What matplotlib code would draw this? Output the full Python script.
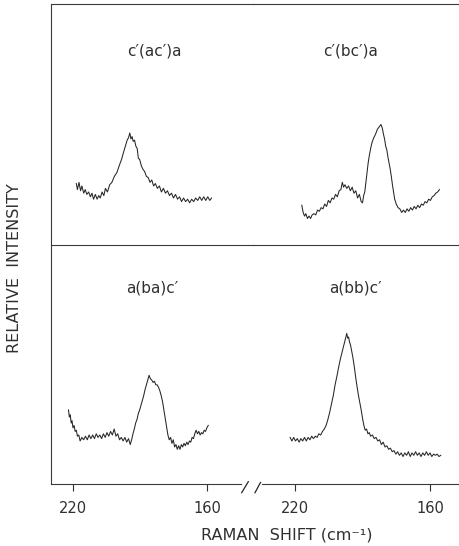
import matplotlib
matplotlib.use("Agg")
import matplotlib.pyplot as plt
from matplotlib.lines import Line2D
import numpy as np

# ---------------- data ----------------
tl_w = [218.5, 218.0, 217.3, 216.6, 216.0, 215.2, 214.5, 213.8, 213.0, 212.2, 211.5, 210.8, 210.0, 209.2,
        208.5, 207.8, 207.0, 206.2, 205.5, 204.6, 203.6, 202.6, 201.5, 200.4, 199.3, 198.3, 197.4, 196.6,
        195.8, 195.2, 194.6, 194.1, 193.6, 193.1, 192.5, 191.9, 191.3, 190.8, 190.2, 189.5, 188.8, 188.0,
        187.2, 186.4, 185.6, 184.8, 184.0, 183.2, 182.3, 181.4, 180.5, 179.6, 178.7, 177.8, 176.9, 176.0,
        175.1, 174.2, 173.3, 172.4, 171.5, 170.6, 169.7, 168.8, 167.9, 167.0, 166.1, 165.2, 164.3, 163.4,
        162.5, 161.6, 160.7, 159.8, 158.9, 158.1]
tl_i = [25.5, 23.0, 26.0, 22.5, 24.5, 21.5, 23.0, 21.0, 22.0, 20.0, 21.5, 19.0, 21.0, 19.0,
        20.5, 19.5, 22.0, 20.5, 23.5, 22.0, 25.0, 26.0, 28.5, 30.0, 33.0, 35.5, 38.5, 41.0,
        43.5, 44.5, 46.5, 44.0, 45.0, 43.0, 43.5, 41.0, 40.0, 36.0, 35.5, 33.0, 31.5, 30.5,
        28.5, 28.0, 26.0, 27.0, 24.5, 25.5, 23.5, 24.5, 22.0, 23.5, 21.5, 22.5, 20.5, 21.5,
        19.5, 21.0, 19.0, 20.0, 18.0, 19.5, 18.0, 19.0, 17.5, 19.0, 18.0, 19.5, 18.5, 20.0,
        18.5, 20.0, 18.5, 20.0, 18.5, 19.5]

tr_w = [217.0, 216.4, 215.8, 215.2, 214.5, 213.8, 213.1, 212.4, 211.6, 210.8, 210.0, 209.2, 208.4, 207.6,
        206.8, 206.0, 205.2, 204.4, 203.6, 202.8, 202.0, 201.2, 200.4, 199.6, 199.0, 198.4, 197.8, 197.0,
        196.2, 195.4, 194.6, 193.8, 193.0, 192.2, 191.4, 190.6, 190.0, 189.5, 189.0, 188.5, 188.0, 187.5,
        187.0, 186.4, 185.8, 185.0, 184.2, 183.4, 182.6, 181.8, 181.2, 180.7, 180.2, 179.7, 179.2, 178.7,
        178.2, 177.7, 177.2, 176.7, 176.2, 175.7, 175.0, 174.2, 173.4, 172.6, 171.8, 171.0, 170.2, 169.4,
        168.6, 167.8, 167.0, 166.2, 165.4, 164.6, 163.8, 163.0, 162.2, 161.4, 160.6, 159.8, 159.0, 158.2,
        157.4, 156.6, 155.8]
tr_i = [16.5, 13.5, 12.0, 13.0, 11.0, 12.0, 11.0, 12.5, 13.0, 12.5, 14.5, 14.0, 15.5, 15.0,
        17.0, 16.0, 18.5, 17.5, 19.5, 19.0, 21.0, 20.0, 22.5, 23.0, 26.0, 24.0, 25.0, 23.5,
        24.5, 22.5, 24.0, 21.5, 22.5, 19.5, 21.0, 18.0, 17.5, 20.5, 22.0, 26.0, 30.0, 34.0,
        37.0, 40.0, 42.5, 44.5, 46.0, 48.0, 49.0, 50.0, 48.5, 46.0, 44.0, 41.0, 39.5, 36.5,
        34.0, 31.5, 28.5, 25.0, 22.0, 19.0, 17.0, 15.5, 15.0, 13.5, 14.5, 13.5, 15.0, 14.0,
        15.5, 14.5, 16.0, 15.0, 16.5, 15.5, 17.0, 16.5, 18.0, 17.5, 19.0, 18.5, 20.0, 20.5,
        21.5, 22.0, 23.0]

bl_w = [222.0, 221.6, 221.2, 220.8, 220.4, 220.0, 219.5, 219.0, 218.5, 218.0, 217.4, 216.8, 216.0, 215.2,
        214.4, 213.6, 212.8, 212.0, 211.2, 210.4, 209.6, 208.8, 208.0, 207.2, 206.4, 205.6, 204.8, 204.0,
        203.2, 202.4, 201.6, 200.8, 200.0, 199.2, 198.4, 197.6, 196.8, 196.0, 195.2, 194.4, 193.8, 193.2,
        192.6, 192.0, 191.4, 190.8, 190.2, 189.6, 189.0, 188.4, 187.8, 187.2, 186.6, 186.0, 185.4, 184.8,
        184.2, 183.6, 183.0, 182.4, 181.8, 181.2, 180.6, 180.0, 179.4, 178.8, 178.2, 177.6, 177.0, 176.4,
        175.8, 175.2, 174.6, 174.0, 173.4, 172.8, 172.2, 171.6, 171.0, 170.4, 169.8, 169.2, 168.6, 168.0,
        167.4, 166.8, 166.2, 165.6, 165.0, 164.4, 163.8, 163.2, 162.6, 162.0, 161.4, 160.8, 160.2, 159.6]
bl_i = [31.0, 28.0, 29.0, 25.5, 26.5, 23.5, 24.5, 22.0, 22.5, 20.0, 20.5, 18.0, 19.5, 18.5,
        20.0, 18.5, 20.5, 19.0, 20.5, 19.0, 21.0, 19.5, 20.5, 19.0, 21.0, 19.5, 21.5, 20.0,
        22.0, 20.5, 23.0, 20.0, 21.0, 18.5, 19.5, 18.0, 19.5, 17.5, 19.0, 16.5, 18.5, 21.0,
        23.0, 25.5, 27.0, 29.5, 31.0, 33.0, 35.0, 37.0, 39.5, 41.5, 43.5, 45.5, 44.0, 43.5,
        42.5, 43.0, 41.5, 41.5, 40.5, 39.0, 37.0, 34.5, 31.0, 27.5, 24.0, 20.5, 18.5, 19.5,
        17.0, 18.5, 15.5, 16.5, 14.5, 16.0, 14.5, 16.5, 15.5, 17.0, 16.0, 17.5, 16.5, 18.0,
        17.5, 19.5, 19.0, 21.0, 22.5, 21.0, 22.0, 20.5, 21.5, 21.0, 22.5, 22.0, 23.5, 24.5]

br_w = [222.2, 221.4, 220.6, 219.8, 219.0, 218.2, 217.4, 216.6, 215.8, 215.0, 214.2, 213.4, 212.6, 211.8,
        211.0, 210.2, 209.4, 208.6, 207.8, 207.0, 206.2, 205.4, 204.6, 203.8, 203.0, 202.2, 201.4, 200.6,
        199.8, 199.0, 198.2, 197.4, 197.0, 196.6, 196.2, 195.8, 195.3, 194.8, 194.3, 193.8, 193.3, 192.8,
        192.3, 191.8, 191.2, 190.6, 190.0, 189.4, 188.8, 188.2, 187.6, 187.0, 186.4, 185.6, 184.8, 184.0,
        183.2, 182.4, 181.6, 180.8, 180.0, 179.2, 178.4, 177.6, 176.8, 176.0, 175.2, 174.4, 173.6, 172.8,
        172.0, 171.2, 170.4, 169.6, 168.8, 168.0, 167.2, 166.4, 165.6, 164.8, 164.0, 163.2, 162.4, 161.6,
        160.8, 160.0, 159.2, 158.4, 157.6, 156.8, 156.0, 155.2]
br_i = [19.5, 18.0, 19.5, 18.0, 19.0, 17.5, 19.0, 18.0, 19.5, 18.0, 19.5, 18.5, 20.0, 19.0,
        20.0, 19.5, 21.0, 20.5, 22.0, 23.0, 24.5, 27.0, 30.0, 33.5, 37.0, 41.5, 45.0, 49.0,
        52.5, 55.5, 58.5, 61.5, 63.0, 61.0, 61.5, 59.5, 58.0, 55.5, 53.0, 50.0, 46.5, 43.0,
        40.0, 37.0, 34.0, 31.0, 27.5, 24.5, 22.5, 23.0, 21.0, 21.5, 20.0, 20.5, 19.0, 19.5,
        18.0, 18.5, 16.5, 17.5, 15.5, 16.0, 14.5, 15.0, 13.5, 14.0, 12.5, 13.5, 12.0, 13.0,
        11.5, 13.0, 12.0, 13.5, 11.5, 13.0, 12.0, 13.5, 12.0, 13.0, 11.5, 13.0, 12.0, 13.5,
        12.0, 13.0, 11.5, 12.5, 12.0, 12.5, 11.5, 12.0]

titles = ["c\u2032(ac\u2032)a", "c\u2032(bc\u2032)a", "a(ba)c\u2032", "a(bb)c\u2032"]
tick_vals = [220, 160]
tick_labels = ["220", "160"]
xlabel = "RAMAN  SHIFT (cm\u207b\u00b9)"
ylabel = "RELATIVE  INTENSITY"

# ---------------- figure ----------------
W, H = 459, 546
fig = plt.figure(figsize=(W / 100, H / 100), dpi=100)
fig.patch.set_facecolor("white")

def fx(px):
    return px / W

def fy(py):
    return 1 - py / H

ink = "#262626"
txt = "#303030"
xl_left = (229.8, 139.6)
xl_right = (238.7, 147.1)

ax_tl = fig.add_axes([fx(51), fy(245), fx(253) - fx(51), fy(4) - fy(245)])
ax_tr = fig.add_axes([fx(253), fy(245), fx(459) - fx(253), fy(4) - fy(245)])
ax_bl = fig.add_axes([fx(51), fy(484), fx(253) - fx(51), fy(245) - fy(484)])
ax_br = fig.add_axes([fx(253), fy(484), fx(459) - fx(253), fy(245) - fy(484)])

panels = [(ax_tl, tl_w, tl_i, xl_left), (ax_tr, tr_w, tr_i, xl_right),
          (ax_bl, bl_w, bl_i, xl_left), (ax_br, br_w, br_i, xl_right)]

for ax, w, i, xl in panels:
    ax.plot(w, i, color=ink, lw=0.75)
    ax.set_xlim(*xl)
    ax.set_ylim(0, 100)
    ax.set_yticks([])
    ax.patch.set_alpha(0)
    for s in ax.spines.values():
        s.set_visible(False)
        s.set_color("#3a3a3a")
        s.set_linewidth(0.8)

# top row: top line and middle line
for ax in (ax_tl, ax_tr):
    ax.spines["top"].set_visible(True)
    ax.spines["bottom"].set_visible(True)
    ax.set_xticks([])
ax_tl.spines["left"].set_visible(True)
ax_bl.spines["left"].set_visible(True)

# bottom row: x axis with break
ax_bl.spines["bottom"].set_visible(True)
ax_bl.spines["bottom"].set_bounds(xl_left[0], 145.0)
ax_br.spines["bottom"].set_visible(True)
ax_br.spines["bottom"].set_bounds(234.7, xl_right[1])
for ax in (ax_bl, ax_br):
    ax.set_xticks(tick_vals)
    ax.set_xticklabels(tick_labels)
    ax.tick_params(axis="x", direction="out", length=5, width=0.8, pad=7,
                   labelsize=10.5, colors=txt)

# break marks
for (x0, y0, x1, y1) in [(241.7, 492.7, 248.3, 481.7), (255.0, 492.7, 260.5, 482.5)]:
    fig.add_artist(Line2D([fx(x0), fx(x1)], [fy(y0), fy(y1)], transform=fig.transFigure,
                          color=ink, lw=0.9))

# panel titles
title_pos = [(154, 51), (351, 51), (152, 288), (355, 288)]
for t, (px, py) in zip(titles, title_pos):
    fig.text(fx(px), fy(py), t, ha="center", va="center", fontsize=11, color=txt)

fig.text(fx(287), fy(535), xlabel, ha="center", va="center", fontsize=11.5, color=txt)
fig.text(fx(15), fy(268), ylabel, ha="center", va="center", rotation=90, fontsize=11.5, color=txt)

fig.savefig("out.png", dpi=100)
